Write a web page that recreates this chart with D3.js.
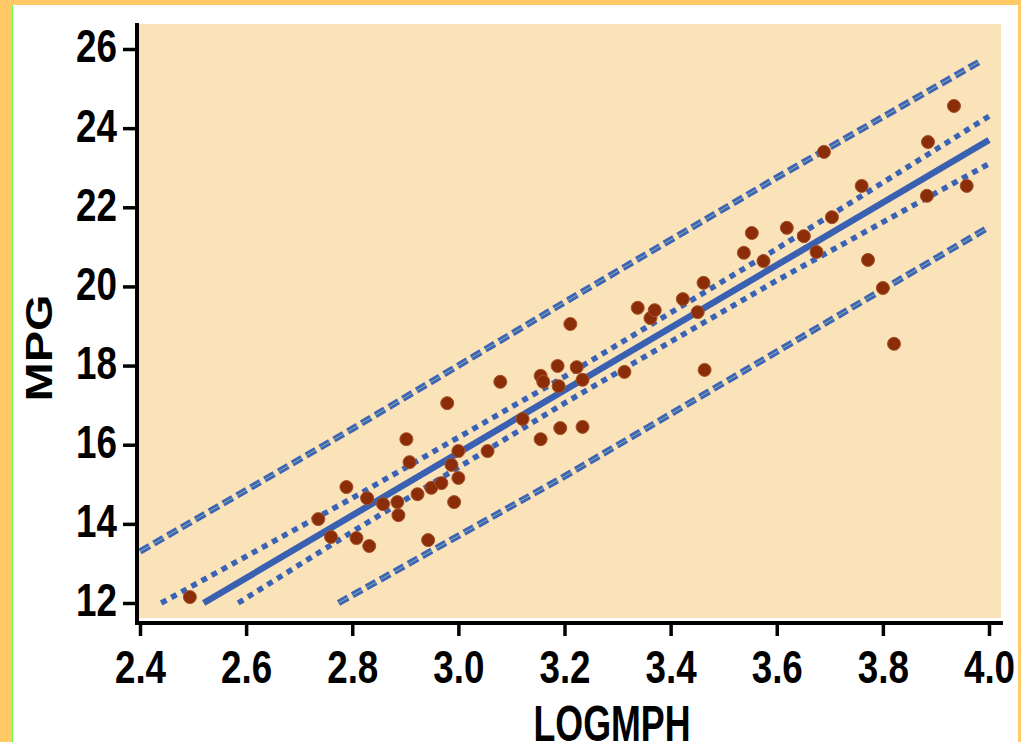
<!DOCTYPE html>
<html>
<head>
<meta charset="utf-8">
<script src="https://cdn.jsdelivr.net/npm/d3@7"></script>
<style>
  html, body { margin: 0; padding: 0; background: #fff; }
  svg { display: block; }
  .tick text { font-family: "Liberation Sans", Arial, sans-serif; font-weight: bold; fill: #000; }
</style>
</head>
<body>
<svg id="chart" width="1021" height="742"></svg>
<script>
// observations (LOGMPH, MPG)
var logmph = [2.494, 2.736, 2.789, 2.760, 2.808, 2.828, 2.832, 2.858, 2.885, 2.887,
  2.902, 2.908, 2.923, 2.943, 2.949, 2.968, 2.979, 2.987, 2.992, 3.000,
  3.000, 3.055, 3.079, 3.121, 3.155, 3.160, 3.155, 3.187, 3.189, 3.192,
  3.211, 3.223, 3.234, 3.234, 3.313, 3.338, 3.362, 3.370, 3.423, 3.451,
  3.462, 3.464, 3.538, 3.553, 3.575, 3.619, 3.651, 3.675, 3.689, 3.704,
  3.760, 3.772, 3.800, 3.821, 3.885, 3.883, 3.934, 3.958];
var mpg = [12.15, 14.12, 14.93, 13.67, 13.64, 14.65, 13.44, 14.50, 14.55, 14.22,
  16.14, 15.56, 14.75, 13.59, 14.91, 15.03, 17.05, 15.49, 14.55, 15.84,
  15.16, 15.84, 17.59, 16.65, 17.74, 17.59, 16.14, 17.99, 17.48, 16.42,
  19.05, 17.96, 17.64, 16.45, 17.84, 19.46, 19.20, 19.40, 19.68, 19.35,
  20.09, 17.89, 20.85, 21.35, 20.64, 21.48, 21.27, 20.87, 23.40, 21.75,
  22.54, 20.67, 19.96, 18.55, 23.65, 22.29, 24.56, 22.54];

// fitted line and bands
var fitX = [2.52, 4.0];
var fitY = [12.0, 23.7];
var ciUpperX = [2.44, 2.8, 3.2, 3.6, 4.0];
var ciUpperY = [12.0, 14.65, 17.72, 20.95, 24.3];
var ciLowerX = [2.585, 2.8, 3.2, 3.6, 4.0];
var ciLowerY = [12.0, 13.8, 17.05, 20.15, 23.1];
var piUpperX = [2.4, 2.8, 3.2, 3.6, 3.985];
var piUpperY = [13.3, 16.4, 19.6, 22.75, 25.7];
var piLowerX = [2.774, 3.2, 3.6, 4.0];
var piLowerY = [12.0, 15.2, 18.35, 21.5];

var xTicks = [2.4, 2.6, 2.8, 3.0, 3.2, 3.4, 3.6, 3.8, 4.0];
var yTicks = [12, 14, 16, 18, 20, 22, 24, 26];

var svg = d3.select('#chart');

// frame
svg.append('rect').attr('x', 0).attr('y', 0).attr('width', 1021).attr('height', 742).attr('fill', '#ffc965');
svg.append('rect').attr('x', 12).attr('y', 5).attr('width', 1006).attr('height', 737).attr('fill', '#fff');
svg.append('line').attr('x1', 12.5).attr('x2', 12.5).attr('y1', 5).attr('y2', 742)
  .attr('stroke', '#66ff44').attr('stroke-width', 1);

var x = d3.scaleLinear().domain([2.4, 4.0]).range([140, 989]);
var y = d3.scaleLinear().domain([12, 26]).range([603, 49]);

// plot background
svg.append('rect').attr('x', 139).attr('y', 24).attr('width', 862).attr('height', 594)
  .attr('fill', '#fae3b9');

var line = d3.line()
  .x(function(d) { return x(d[0]); })
  .y(function(d) { return y(d[1]); });

function pts(xs, ys) {
  return xs.map(function(v, i) { return [v, ys[i]]; });
}

var g = svg.append('g');

// prediction limits
[pts(piUpperX, piUpperY), pts(piLowerX, piLowerY)].forEach(function(p) {
  g.append('path').attr('d', line(p)).attr('fill', 'none')
    .attr('stroke', '#3f64b6').attr('stroke-width', 6.5).attr('stroke-dasharray', '11,5');
  g.append('path').attr('d', line(p)).attr('fill', 'none')
    .attr('stroke', '#86b3a0').attr('stroke-width', 1).attr('stroke-dasharray', '11,5');
});

// confidence limits
[pts(ciUpperX, ciUpperY), pts(ciLowerX, ciLowerY)].forEach(function(p) {
  g.append('path').attr('d', line(p)).attr('fill', 'none')
    .attr('stroke', '#3a62b5').attr('stroke-width', 5.5).attr('stroke-dasharray', '6,5.5');
});

// fit
g.append('path').attr('d', line(pts(fitX, fitY))).attr('fill', 'none')
  .attr('stroke', '#3a60b2').attr('stroke-width', 6.5);

// points
g.selectAll('circle.obs')
  .data(pts(logmph, mpg))
  .enter().append('circle')
  .attr('class', 'obs')
  .attr('cx', function(d) { return x(d[0]); })
  .attr('cy', function(d) { return y(d[1]); })
  .attr('r', 6.5)
  .attr('fill', '#8a2d08')
  .attr('stroke', '#a5522a')
  .attr('stroke-width', 1);

// axes
var xAxis = svg.append('g')
  .attr('transform', 'translate(0,623)')
  .call(d3.axisBottom(x).tickValues(xTicks).tickFormat(d3.format('.1f')).tickSize(13).tickPadding(14));
var yAxis = svg.append('g')
  .attr('transform', 'translate(137,0)')
  .call(d3.axisLeft(y).tickValues(yTicks).tickSize(14).tickPadding(6));

// condensed look: squeeze each label
[xAxis, yAxis].forEach(function(a) {
  a.select('.domain').remove();
  a.selectAll('.tick line').attr('stroke', '#000').attr('stroke-width', 3.5);
  a.selectAll('.tick text').style('font-size', '46px')
    .attr('lengthAdjust', 'spacingAndGlyphs')
    .attr('textLength', function() { return this.getComputedTextLength() * 0.8; });
});
yAxis.selectAll('.tick text').attr('dy', '0.28em');

svg.append('line').attr('x1', 137).attr('x2', 137).attr('y1', 23).attr('y2', 625)
  .attr('stroke', '#000').attr('stroke-width', 4);
svg.append('line').attr('x1', 135).attr('x2', 1003).attr('y1', 623).attr('y2', 623)
  .attr('stroke', '#000').attr('stroke-width', 4);

// axis titles
svg.append('text')
  .attr('x', 612).attr('y', 741)
  .attr('text-anchor', 'middle')
  .attr('textLength', 157).attr('lengthAdjust', 'spacingAndGlyphs')
  .style('font-family', '"Liberation Sans", Arial, sans-serif')
  .style('font-weight', 'bold').style('font-size', '50px')
  .text('LOGMPH');

svg.append('text')
  .attr('transform', 'translate(52,348) rotate(-90)')
  .attr('text-anchor', 'middle')
  .attr('textLength', 107).attr('lengthAdjust', 'spacingAndGlyphs')
  .style('font-family', '"Liberation Sans", Arial, sans-serif')
  .style('font-weight', 'bold').style('font-size', '37px')
  .text('MPG');
</script>
</body>
</html>
